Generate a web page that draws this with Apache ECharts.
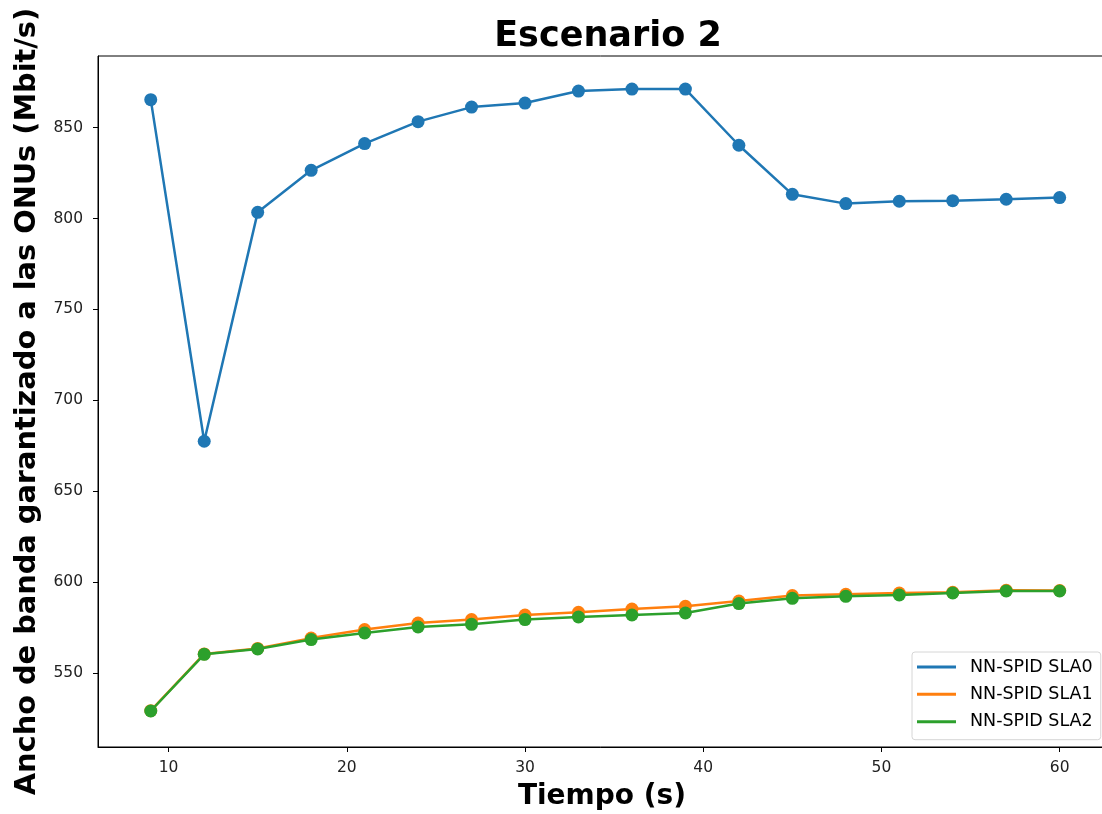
<!DOCTYPE html>
<html>
<head>
<meta charset="utf-8">
<script src="https://cdn.jsdelivr.net/npm/echarts@6/dist/echarts.min.js"></script>
<style>
html,body{margin:0;padding:0;background:#fff;}
#chart{width:1102px;height:814px;}
</style>
</head>
<body>
<div id="chart"></div>
<script>
const times = [9, 12, 15, 18, 21, 24, 27, 30, 33, 36, 39, 42, 45, 48, 51, 54, 57, 60];
const sla0 = [865.4, 677.5, 803.4, 826.5, 841.2, 853.3, 861.3, 863.5, 870.1, 871.2, 871.2, 840.3, 813.3, 808.2, 809.5, 809.8, 810.6, 811.5];
const sla1 = [529.3, 560.5, 563.5, 569.2, 573.9, 577.5, 579.4, 581.9, 583.4, 585.2, 586.7, 589.6, 592.6, 593.3, 594.0, 594.4, 595.5, 595.4];
const sla2 = [529.1, 560.3, 563.2, 568.4, 572.0, 575.3, 576.8, 579.4, 580.8, 581.9, 583.0, 588.2, 591.1, 592.2, 592.9, 594.0, 595.1, 595.1];
const xTicks = [10, 20, 30, 40, 50, 60];
const yTicks = [550, 600, 650, 700, 750, 800, 850];
const seriesNames = ['NN-SPID SLA0', 'NN-SPID SLA1', 'NN-SPID SLA2'];
const colors = ['#1f77b4', '#ff7f0e', '#2ca02c'];

const font = 'DejaVu Sans';
const chart = echarts.init(document.getElementById('chart'), null, {renderer: 'canvas'});
function pairs(vals) { return times.map((t, i) => [t, vals[i]]); }
const allVals = [sla0, sla1, sla2];

chart.setOption({
  animation: false,
  backgroundColor: '#fff',
  color: colors,
  title: {
    text: 'Escenario 2',
    left: 603,
    textAlign: 'center',
    top: 14,
    textStyle: {fontFamily: font, fontWeight: 'bold', fontSize: 35, color: '#000'}
  },
  grid: {
    left: 98, top: 56, width: 1008, height: 691,
    containLabel: false,
    outerBoundsMode: 'none',
    show: true, borderColor: '#000', borderWidth: 1, backgroundColor: 'transparent'
  },
  legend: {
    left: 912, top: 652,
    orient: 'vertical',
    icon: 'rect',
    itemWidth: 39, itemHeight: 3,
    itemGap: 7.35,
    padding: [5, 8, 8, 5],
    backgroundColor: 'rgba(255,255,255,0.8)',
    borderColor: '#d6d6d6', borderWidth: 1, borderRadius: 3,
    textStyle: {fontFamily: font, fontSize: 17.5, color: '#000', lineHeight: 20, padding: [0, 0, 0, 9]},
    data: seriesNames
  },
  xAxis: {
    type: 'value',
    min: 6.04, max: 62.6,
    name: 'Tiempo (s)',
    nameLocation: 'middle',
    nameGap: 36,
    nameTextStyle: {fontFamily: font, fontWeight: 'bold', fontSize: 28, color: '#000'},
    axisLine: {show: true, lineStyle: {color: '#000', width: 1}},
    axisTick: {show: true, inside: false, length: 5, lineStyle: {color: '#000'}, customValues: xTicks},
    axisLabel: {fontFamily: font, fontSize: 15.5, color: '#222', margin: 13, customValues: xTicks},
    splitLine: {show: false}
  },
  yAxis: {
    type: 'value',
    min: 509.3, max: 889.4,
    name: 'Ancho de banda garantizado a las ONUs (Mbit/s)',
    nameLocation: 'middle',
    nameGap: 55,
    nameRotate: 90,
    nameTextStyle: {fontFamily: font, fontWeight: 'bold', fontSize: 28.8, color: '#000'},
    axisLine: {show: true, lineStyle: {color: '#000', width: 1}},
    axisTick: {show: true, inside: false, length: 5, lineStyle: {color: '#000'}, customValues: yTicks},
    axisLabel: {fontFamily: font, fontSize: 15.5, color: '#222', margin: 15, customValues: yTicks},
    splitLine: {show: false}
  },
  series: seriesNames.map((name, i) => ({
    name: name,
    type: 'line',
    data: pairs(allVals[i]),
    symbol: 'circle',
    symbolSize: 13,
    showSymbol: true,
    lineStyle: {width: 2.5, color: colors[i]},
    itemStyle: {color: colors[i]},
    z: 2 + i
  }))
});
</script>
</body>
</html>
